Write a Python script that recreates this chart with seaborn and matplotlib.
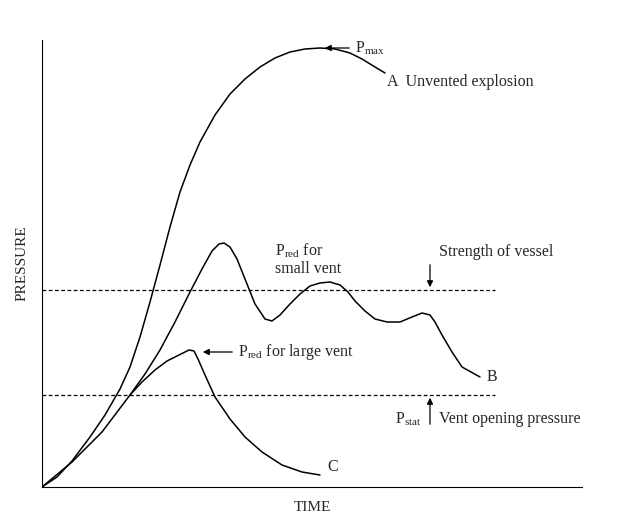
import matplotlib
matplotlib.use("Agg")
import matplotlib.pyplot as plt
import seaborn as sns
import pandas as pd

# schematic curves (time, pressure in arbitrary units)
a_time = [0, 15, 30, 48, 63, 78, 88, 98, 108, 118, 128, 138, 148, 158, 173, 188, 203, 218, 233, 248, 263, 278, 293, 308, 320, 333, 343]
a_pres = [0, 10, 26, 50, 72, 98, 120, 150, 185, 222, 260, 295, 322, 345, 372, 393, 408, 420, 429, 435, 438, 439, 438, 434, 428, 420, 414]
b_time = [88, 103, 118, 133, 148, 160, 170, 177, 182, 188, 195, 203, 213, 223, 230, 238, 248, 258, 268, 278, 288, 298, 306, 313, 323, 333, 345, 358, 370, 380, 388, 393, 400, 410, 420, 438]
b_pres = [92, 113, 137, 165, 195, 218, 236, 243, 244, 240, 228, 208, 183, 168, 166, 172, 183, 193, 201, 204, 205, 202, 195, 186, 176, 168, 165, 165, 170, 174, 172, 165, 152, 135, 120, 110]
c_time = [0, 30, 60, 88, 100, 113, 125, 137, 147, 152, 156, 163, 173, 188, 203, 220, 240, 260, 278]
c_pres = [0, 25, 55, 92, 105, 117, 126, 132, 137, 136, 128, 112, 90, 68, 50, 35, 22, 15, 12]
vessel_strength = 197
vent_opening = 92

sns.set_style("white")
plt.rcParams["font.family"] = "Liberation Serif"
fig = plt.figure(figsize=(6.28, 5.30), dpi=100)
ax = fig.add_axes([42 / 628, 43 / 530, 540 / 628, 447 / 530])

for t, p in [(a_time, a_pres), (b_time, b_pres), (c_time, c_pres)]:
    sns.lineplot(data=pd.DataFrame({"t": t, "p": p}), x="t", y="p", sort=False,
                 color="black", lw=1.1, ax=ax)
for lvl in [vessel_strength, vent_opening]:
    ax.plot([0, 453], [lvl, lvl], ls=(0, (3, 2)), color="black", lw=0.9)

ax.set_xlim(0, 540)
ax.set_ylim(0, 447)
ax.set_xticks([])
ax.set_yticks([])
sns.despine(ax=ax)
for s in ["left", "bottom"]:
    ax.spines[s].set_color("black")
ax.set_xlabel("TIME", fontsize=11, labelpad=10)
ax.set_ylabel("PRESSURE", fontsize=11, labelpad=10)

arr = dict(arrowstyle="-|>", color="black", lw=0.9, mutation_scale=9)
fs = 11.5
ax.annotate("", xy=(280, 439), xytext=(310, 439), arrowprops=arr)
ax.text(313, 439, r"P$_{\mathregular{max}}$", fontsize=fs, va="center")
ax.text(345, 405, "A  Unvented explosion", fontsize=fs, va="center")
ax.text(233, 228, "P$_{\\mathregular{red}}$ for\nsmall vent", fontsize=fs, va="center", linespacing=1.1)
ax.annotate("", xy=(388, vessel_strength), xytext=(388, 225), arrowprops=arr)
ax.text(397, 235, "Strength of vessel", fontsize=fs, va="center")
ax.annotate("", xy=(158, 135), xytext=(193, 135), arrowprops=arr)
ax.text(196, 135, "P$_{\\mathregular{red}}$ for large vent", fontsize=fs, va="center")
ax.text(445, 110, "B", fontsize=fs, va="center")
ax.text(285, 20, "C", fontsize=fs, va="center")
ax.annotate("", xy=(388, vent_opening), xytext=(388, 60), arrowprops=arr)
ax.text(353, 68, "P$_{\\mathregular{stat}}$", fontsize=fs, va="center")
ax.text(397, 68, "Vent opening pressure", fontsize=fs, va="center")

fig.savefig("out.png", dpi=100)
